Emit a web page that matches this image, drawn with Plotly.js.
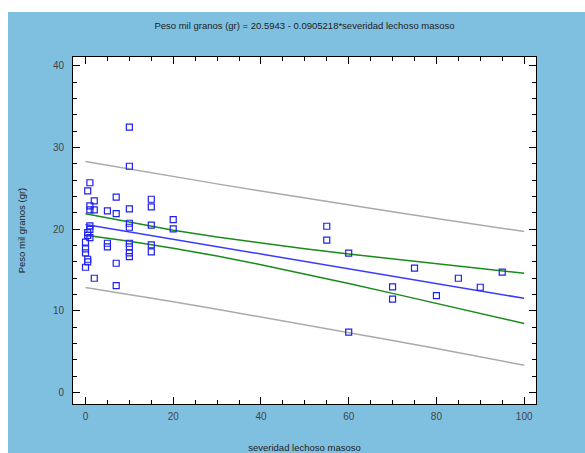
<!DOCTYPE html>
<html>
<head>
<meta charset="utf-8">
<script src="https://cdn.plot.ly/plotly-3.0.1.min.js"></script>
<style>
html,body{margin:0;padding:0;background:#ffffff;}
#bg{position:absolute;left:8px;top:12px;width:577px;height:441px;background:#7fc0e0;}
#chart{position:absolute;left:0;top:0;width:585px;height:453px;}
</style>
</head>
<body>
<div id="bg"></div>
<div id="chart"></div>
<script>
// Observed points
const obsX = [
  0,0,0,0,
  0.5,0.5,0.5,0.5,0.5,
  1,1,1,1,1,1,
  2,2,2,
  5,5,5,
  7,7,7,7,
  10,10,10,10,10,10,10,10,10,
  15,15,15,15,15,
  20,20,
  55,55,60,60,70,70,75,80,85,90,95
];
const obsY = [
  18.42,17.6,17.1,15.35,
  24.7,19.6,19.25,16.33,16.0,
  25.7,22.86,22.37,20.41,20.0,18.98,
  23.47,22.37,14.0,
  22.25,18.29,17.84,
  23.93,21.92,15.84,13.1,
  32.5,27.72,22.49,20.74,20.25,18.29,17.84,17.1,16.65,
  23.68,22.74,20.5,18.09,17.23,
  21.18,20.04,
  20.37,18.66,17.07,7.4,12.94,11.44,15.23,11.88,14.0,12.9,14.74
];
// Fitted line and limits
const fitX = [0,100];
const fitY = [20.59,11.54];
const limX = [0,10,20,30,40,50,60,70,80,90,100];
const confUpper = [21.9,20.85,19.88,19.04,18.28,17.61,16.97,16.37,15.77,15.2,14.62];
const confLower = [19.28,18.53,17.68,16.72,15.66,14.53,13.35,12.15,10.93,9.7,8.46];
const predUpper = [28.3,27.37,26.45,25.56,24.68,23.81,22.96,22.14,21.32,20.52,19.73];
const predLower = [12.88,12.02,11.11,10.2,9.26,8.33,7.36,6.39,5.39,4.38,3.35];

const titleText = 'Peso mil granos (gr) = 20.5943 - 0.0905218*severidad lechoso masoso';
const xTitle = 'severidad lechoso masoso';
const yTitle = 'Peso mil granos (gr)';

const gray = '#aaaaaa', green = '#1a8a1a', blue = '#3a3aff';
const traces = [
  {x: limX, y: predUpper, mode:'lines', line:{color:gray, width:1.5}, hoverinfo:'skip'},
  {x: limX, y: predLower, mode:'lines', line:{color:gray, width:1.5}, hoverinfo:'skip'},
  {x: limX, y: confUpper, mode:'lines', line:{color:green, width:1.5}, hoverinfo:'skip'},
  {x: limX, y: confLower, mode:'lines', line:{color:green, width:1.5}, hoverinfo:'skip'},
  {x: fitX, y: fitY, mode:'lines', line:{color:blue, width:1.5}, hoverinfo:'skip'},
  {x: obsX, y: obsY, mode:'markers', marker:{symbol:'square-open', size:6, color:'#2020ee', line:{width:1.2}}}
];
const tickFont = {family:'Liberation Sans, Arial, sans-serif', size:10, color:'#444444'};
const layout = {
  width:585, height:453,
  paper_bgcolor:'rgba(0,0,0,0)', plot_bgcolor:'#ffffff',
  margin:{l:73, r:49, t:57, b:49},
  showlegend:false,
  title:{text:titleText, x:0.5, xref:'paper', y:0.943, yref:'container', yanchor:'middle',
         font:{family:'Liberation Sans, Arial, sans-serif', size:9.5, color:'#222222'}},
  xaxis:{range:[-2.85,102.7], tick0:0, dtick:20, ticks:'inside', ticklen:7, tickcolor:'#000',
         showline:true, linecolor:'#000', linewidth:1, mirror:'allticks', showgrid:false, zeroline:false,
         tickfont:tickFont, ticklabelstandoff:3,
         minor:{dtick:5, tick0:0, ticks:'inside', ticklen:4, tickcolor:'#000', showgrid:false},
         title:{text:xTitle, standoff:23, font:{family:'Liberation Sans, Arial, sans-serif', size:9.5, color:'#222222'}}},
  yaxis:{range:[-1.4,41.1], tick0:0, dtick:10, ticks:'inside', ticklen:7, tickcolor:'#000',
         showline:true, linecolor:'#000', linewidth:1, mirror:'allticks', showgrid:false, zeroline:false,
         tickfont:tickFont, ticklabelstandoff:6,
         minor:{dtick:2, tick0:0, ticks:'inside', ticklen:4, tickcolor:'#000', showgrid:false},
         title:{text:yTitle, standoff:25, font:{family:'Liberation Sans, Arial, sans-serif', size:9.5, color:'#222222'}}}
};
Plotly.newPlot('chart', traces, layout, {displayModeBar:false, staticPlot:true});
</script>
</body>
</html>
